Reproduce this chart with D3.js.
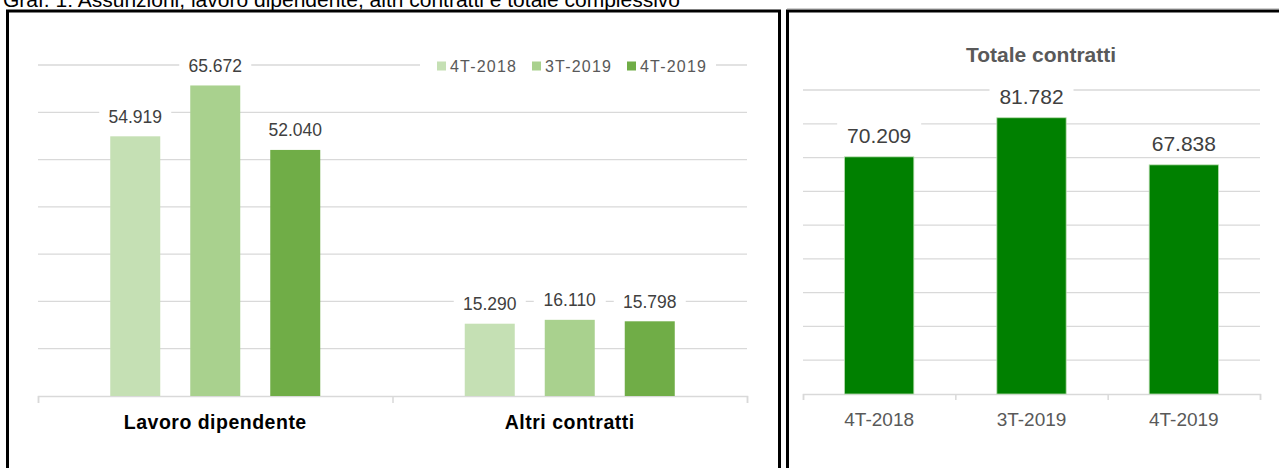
<!DOCTYPE html>
<html>
<head>
<meta charset="utf-8">
<script src="https://cdnjs.cloudflare.com/ajax/libs/d3/7.8.5/d3.min.js"></script>
<style>
  body { margin: 0; background: white; }
  svg { display: block; }
</style>
</head>
<body>
<div id="container"></div>
<script>
let categories = ["Lavoro dipendente", "Altri contratti"];
let periods = ["4T-2018", "3T-2019", "4T-2019"];
let lavoroDipendente = [54919, 65672, 52040];
let altriContratti = [15290, 16110, 15798];
let totaleContratti = [70209, 81782, 67838];
let periodColors = ["#c5e0b4", "#a9d18e", "#70ad47"];
let totalColor = "#008000";

let w = 1279;
let h = 468;
let font = "'Liberation Sans', Arial, sans-serif";

let it = d3.formatLocale({ decimal: ",", thousands: ".", grouping: [3], currency: ["€", ""] });
let fmt = it.format(",");

let viz = d3.select("#container")
  .append("svg")
  .attr("width", w)
  .attr("height", h)
  .style("background-color", "white");

// heading, cut at the top of the image
viz.append("text")
  .text("Graf. 1: Assunzioni, lavoro dipendente, altri contratti e totale complessivo")
  .attr("x", 3)
  .attr("y", 7)
  .attr("font-family", font)
  .attr("font-size", "21px")
  .attr("fill", "black");

//Left chart
let xCat = d3.scaleBand().domain(categories).range([38, 747]).paddingInner(0.4076).paddingOuter(0.2038);
let xPer = d3.scaleBand().domain(periods).range([0, xCat.bandwidth()]).paddingInner(0.375);
let yLeft = d3.scaleLinear().domain([0, 70000]).range([396, 65]);

let left = viz.append("g").attr("class", "left");

left.selectAll(".grid").data(yLeft.ticks(7).filter(function(d) { return d > 0; })).enter()
  .append("line")
  .attr("class", "grid")
  .attr("x1", 38)
  .attr("x2", 747)
  .attr("y1", function(d) { return yLeft(d); })
  .attr("y2", function(d) { return yLeft(d); })
  .attr("stroke", "#d9d9d9")
  .attr("stroke-width", 1.3);

let leftAxis = left.append("g")
  .attr("transform", "translate(0, 396)")
  .call(d3.axisBottom(d3.scaleLinear().domain([0, 2]).range([38, 747])).tickValues([0, 1, 2]).tickSize(7).tickFormat(""));
leftAxis.selectAll("line, path").attr("stroke", "#d9d9d9").attr("stroke-width", 1.5);

let rows = [lavoroDipendente, altriContratti];

let groups = left.selectAll(".catgroup").data(categories).enter()
  .append("g")
  .attr("class", "catgroup")
  .attr("transform", function(d) { return "translate(" + xCat(d) + ", 0)"; });

groups.selectAll("rect.bar").data(function(d, i) {
    return periods.map(function(p, j) { return { period: p, value: rows[i][j], k: j }; });
  }).enter()
  .append("rect")
  .attr("class", "bar")
  .attr("x", function(d) { return xPer(d.period); })
  .attr("y", function(d) { return yLeft(d.value); })
  .attr("width", xPer.bandwidth())
  .attr("height", function(d) { return yLeft(0) - yLeft(d.value); })
  .attr("fill", function(d) { return periodColors[d.k]; });

let leftLabels = groups.selectAll("g.lab").data(function(d, i) {
    return periods.map(function(p, j) { return { period: p, value: rows[i][j] }; });
  }).enter()
  .append("g")
  .attr("class", "lab");

leftLabels.append("rect")
  .attr("x", function(d) { return xPer(d.period) + xPer.bandwidth() / 2 - 36; })
  .attr("y", function(d) { return yLeft(d.value) - 29; })
  .attr("width", 72)
  .attr("height", 20)
  .attr("fill", "white");

leftLabels.append("text")
  .text(function(d) { return fmt(d.value); })
  .attr("x", function(d) { return xPer(d.period) + xPer.bandwidth() / 2; })
  .attr("y", function(d) { return yLeft(d.value) - 13.5; })
  .attr("text-anchor", "middle")
  .attr("font-family", font)
  .attr("font-size", "17.5px")
  .attr("fill", "#404040");

left.selectAll(".catlabel").data(categories).enter()
  .append("text")
  .attr("class", "catlabel")
  .text(function(d) { return d; })
  .attr("x", function(d) { return xCat(d) + xCat.bandwidth() / 2; })
  .attr("y", 429)
  .attr("text-anchor", "middle")
  .attr("font-family", font)
  .attr("font-size", "19.5px")
  .attr("font-weight", "bold")
  .attr("letter-spacing", "0.5px")
  .attr("fill", "black");

// legend
let legend = left.append("g").attr("transform", "translate(437, 66)");
legend.append("rect")
  .attr("x", -17)
  .attr("y", -10)
  .attr("width", 296)
  .attr("height", 20)
  .attr("fill", "white");

let items = legend.selectAll(".item").data(periods).enter()
  .append("g")
  .attr("class", "item")
  .attr("transform", function(d, i) { return "translate(" + (i * 95) + ", 0)"; });

items.append("rect")
  .attr("x", 0)
  .attr("y", -4.5)
  .attr("width", 9)
  .attr("height", 9)
  .attr("fill", function(d, i) { return periodColors[i]; });

items.append("text")
  .text(function(d) { return d; })
  .attr("x", 13)
  .attr("y", 6)
  .attr("font-family", font)
  .attr("font-size", "16px")
  .attr("letter-spacing", "1.2px")
  .attr("fill", "#595959");

//Right chart
let xTot = d3.scaleBand().domain(periods).range([803, 1260]).paddingInner(0.545).paddingOuter(0.2725);
let yRight = d3.scaleLinear().domain([0, 90000]).range([394, 90]);

let right = viz.append("g").attr("class", "right");

right.append("text")
  .text("Totale contratti")
  .attr("x", 1041)
  .attr("y", 62)
  .attr("text-anchor", "middle")
  .attr("font-family", font)
  .attr("font-size", "21px")
  .attr("font-weight", "bold")
  .attr("fill", "#595959");

right.selectAll(".grid").data(yRight.ticks(9).filter(function(d) { return d > 0; })).enter()
  .append("line")
  .attr("class", "grid")
  .attr("x1", 803)
  .attr("x2", 1260)
  .attr("y1", function(d) { return yRight(d); })
  .attr("y2", function(d) { return yRight(d); })
  .attr("stroke", "#d9d9d9")
  .attr("stroke-width", 1.3);

let rightAxis = right.append("g")
  .attr("transform", "translate(0, 394)")
  .call(d3.axisBottom(d3.scaleLinear().domain([0, 3]).range([803, 1260])).tickValues([0, 1, 2, 3]).tickSize(6).tickFormat(""));
rightAxis.selectAll("line, path").attr("stroke", "#d9d9d9").attr("stroke-width", 1.5);

let totData = periods.map(function(p, i) { return { period: p, value: totaleContratti[i] }; });

right.selectAll(".bar").data(totData).enter()
  .append("rect")
  .attr("class", "bar")
  .attr("x", function(d) { return xTot(d.period); })
  .attr("y", function(d) { return yRight(d.value); })
  .attr("width", xTot.bandwidth())
  .attr("height", function(d) { return yRight(0) - yRight(d.value); })
  .attr("fill", totalColor)
  .attr("stroke", "#b7dcae")
  .attr("stroke-width", 0.8);

let totLabels = right.selectAll(".lab").data(totData).enter()
  .append("g")
  .attr("class", "lab");

totLabels.append("rect")
  .attr("x", function(d) { return xTot(d.period) + xTot.bandwidth() / 2 - 42; })
  .attr("y", function(d) { return yRight(d.value) - 35; })
  .attr("width", 84)
  .attr("height", 24)
  .attr("fill", "white");

totLabels.append("text")
  .text(function(d) { return fmt(d.value); })
  .attr("x", function(d) { return xTot(d.period) + xTot.bandwidth() / 2; })
  .attr("y", function(d) { return yRight(d.value) - 14; })
  .attr("text-anchor", "middle")
  .attr("font-family", font)
  .attr("font-size", "21px")
  .attr("fill", "#404040");

right.selectAll(".perlabel").data(periods).enter()
  .append("text")
  .attr("class", "perlabel")
  .text(function(d) { return d; })
  .attr("x", function(d) { return xTot(d) + xTot.bandwidth() / 2; })
  .attr("y", 426)
  .attr("text-anchor", "middle")
  .attr("font-family", font)
  .attr("font-size", "19px")
  .attr("fill", "#595959");

// panel frames
viz.append("rect")
  .attr("x", 7.5)
  .attr("y", 11)
  .attr("width", 772)
  .attr("height", 480)
  .attr("fill", "none")
  .attr("stroke", "black")
  .attr("stroke-width", 3);

viz.append("line")
  .attr("x1", 787)
  .attr("x2", 1279)
  .attr("y1", 8.5)
  .attr("y2", 8.5)
  .attr("stroke", "#d0d0d0")
  .attr("stroke-width", 1);

viz.append("rect")
  .attr("x", 787.5)
  .attr("y", 11)
  .attr("width", 500)
  .attr("height", 480)
  .attr("fill", "none")
  .attr("stroke", "black")
  .attr("stroke-width", 3);
</script>
</body>
</html>
